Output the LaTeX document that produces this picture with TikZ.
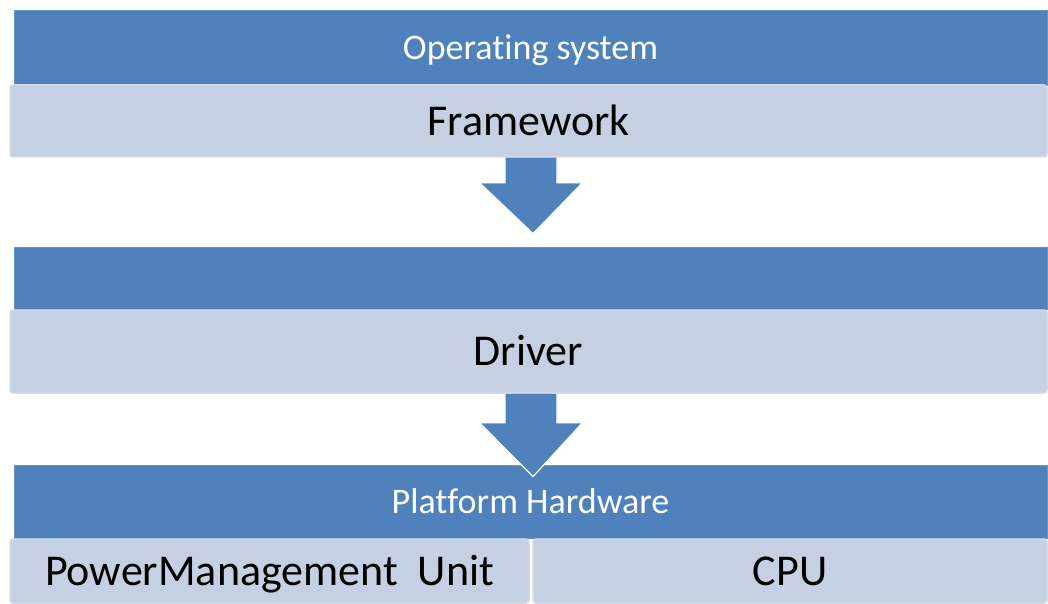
\documentclass[tikz,border=0pt]{standalone}
\usepackage{fontspec}
\setmainfont{Carlito}[Ligatures=NoCommon]
\usetikzlibrary{calc}
\definecolor{barblue}{HTML}{4F81BD}
\definecolor{barlight}{HTML}{C5D0E3}
\definecolor{barrim}{HTML}{D3DAE9}
\tikzset{
  box/.style 2 args={minimum width=#1,minimum height=#2},
  layer/.style={rectangle,fill=barblue,draw=barblue!85!white,line width=.8pt,
    text=white,font=\fontsize{36}{40}\selectfont,
    text height=23.2pt,text depth=0pt,inner sep=0pt},
  sublayer/.style={rectangle,rounded corners=3pt,fill=barlight,draw=barrim,
    line width=1.5pt,text=black,font=\fontsize{44}{48}\selectfont,
    text height=28.3pt,text depth=0pt,inner sep=0pt},
  blockarrow/.style={fill=barblue,draw=white,line width=1.2pt,line join=miter}
}
% fat down arrow: #1 top centre, #2 shaft length, #3 tip
\newcommand*{\downblock}[3]{%
  \filldraw[blockarrow] ($(#1)+(-26,0)$) -- ($(#1)+(-26,#2)$) -- ($(#1)+(-51.5,#2)$)
    -- (#3) -- ($(#1)+(51.5,#2)$) -- ($(#1)+(26,#2)$) -- ($(#1)+(26,0)$);}

\begin{document}
\begin{tikzpicture}[x=1pt,y=-1pt]
\useasboundingbox (0,0) rectangle (1048,604);
% software
\node[layer,box={1033pt}{75pt}] (os) at (530.5,47.5) {Operating system};
\node[sublayer,box={1037pt}{72pt}] (framework) at (528.5,121) {Framework};
\node[layer,box={1033pt}{62pt}] (drvbar) at (530.5,278) {};
\node[sublayer,box={1037pt}{83pt}] (driver) at (528.5,351.5) {Driver};
% hardware
\node[layer,box={1033pt}{73pt}] (hw) at (530.5,501.5) {Platform Hardware};
\node[sublayer,box={519pt}{64pt}] (pmu) at (269.5,571) {PowerManagement~~Unit};
\node[sublayer,box={514pt}{64pt}] (cpu) at (790,571) {CPU};
% arrows between the layers
\coordinate (fw-out) at ($(framework.south)+(2.5,0)$);
\coordinate (fw-tip) at ($(drvbar.north)+(2.5,-13)$);
\coordinate (drv-out) at ($(driver.south)+(2.5,0)$);
\coordinate (drv-tip) at ($(hw.north)+(2.5,12)$);
\downblock{fw-out}{25}{fw-tip}
\downblock{drv-out}{29}{drv-tip}
\end{tikzpicture}
\end{document}
